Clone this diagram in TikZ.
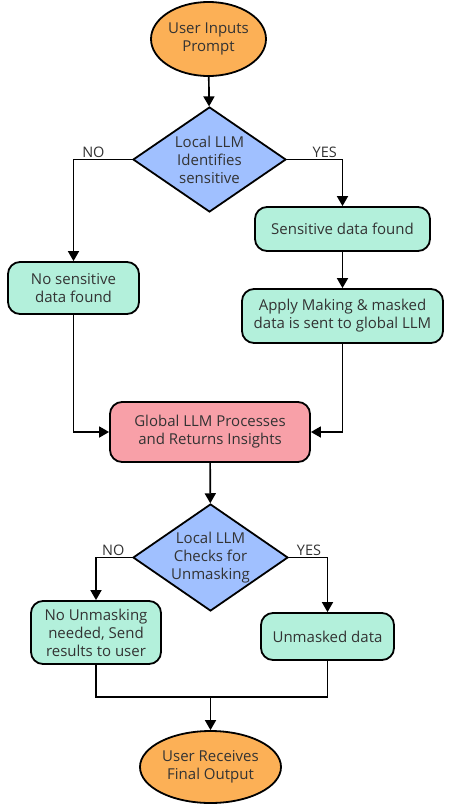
\documentclass[tikz,border=0pt]{standalone}
\usepackage{fontspec}
\setmainfont{Open Sans}
\usepackage{tikz}
\usetikzlibrary{shapes.geometric,arrows.meta}
\definecolor{termfill}{RGB}{252,176,86}
\definecolor{decfill}{RGB}{160,192,255}
\definecolor{procfill}{RGB}{179,240,219}
\definecolor{globfill}{RGB}{248,160,168}
\definecolor{textgray}{RGB}{51,51,51}

\tikzset{
    base/.style={draw=black,line width=1.8pt,text=textgray,align=center,
        font=\fontsize{15}{18}\selectfont,inner sep=0pt},
    terminal/.style={base,ellipse,fill=termfill},
    decision/.style={base,diamond,aspect=1.46,fill=decfill},
    process/.style={base,rectangle,rounded corners=12pt,fill=procfill},
    globalbox/.style={base,rectangle,rounded corners=12pt,fill=globfill},
    arrow/.style={line width=1.7pt,-{Triangle[width=11pt,length=10pt]}},
    branch/.style={text=textgray,font=\fontsize{14.5}{16}\selectfont,inner sep=1.5pt}
}

\begin{document}
\begin{tikzpicture}[x=1pt,y=-1pt]
    \useasboundingbox (0,0) rectangle (449,806);

    % top part
    \node[terminal,minimum width=115pt,minimum height=74pt] (start) at (208.5,39) {User Inputs\\Prompt};
    \node[decision,minimum width=153pt,minimum height=105pt] (identify) at (209.5,159.5) {Local LLM\\Identifies\\sensitive};
    \node[process,minimum width=131pt,minimum height=52pt] (nosens) at (73.5,288) {No sensitive\\data found};
    \node[process,minimum width=175pt,minimum height=44pt] (sens) at (342.5,229) {Sensitive data found};
    \node[process,minimum width=201pt,minimum height=54pt] (apply) at (342.5,316) {Apply Making \& masked\\data is sent to global LLM};

    % middle part
    \node[globalbox,minimum width=200pt,minimum height=60pt] (global) at (210,432) {Global LLM Processes\\and Returns Insights};
    \node[decision,minimum width=155pt,minimum height=107pt] (unmaskcheck) at (210.5,557.5) {Local LLM\\Checks for\\Unmasking};
    \node[process,minimum width=130pt,minimum height=63pt] (nounmask) at (96,632.5) {No Unmasking\\needed, Send\\results to user};
    \node[process,minimum width=133pt,minimum height=47pt] (unmasked) at (327.5,636.5) {Unmasked data};

    % bottom part
    \coordinate (join) at (210.5,697);
    \node[terminal,minimum width=141pt,minimum height=72pt] (finish) at (210.5,767) {User Receives\\Final Output};

    % connectors
    \draw[arrow] (start) -- (identify);
    \draw[arrow] (identify.west) -| (nosens.north) node[branch,pos=0.33,above] {NO};
    \draw[arrow] (identify.east) -| (sens.north) node[branch,pos=0.34,above] {YES};
    \draw[arrow] (sens) -- (apply);
    \draw[arrow] (nosens.south) |- (global.west);
    \draw[arrow] (apply.south) |- (global.east);
    \draw[arrow] (global) -- (unmaskcheck);
    \draw[arrow] (unmaskcheck.west) -| (nounmask.north) node[branch,pos=0.26,above] {NO};
    \draw[arrow] (unmaskcheck.east) -| (unmasked.north) node[branch,pos=0.26,above] {YES};
    \draw[line width=1.7pt] (nounmask.south) |- (join) -| (unmasked.south);
    \draw[arrow] (join) -- (finish);
\end{tikzpicture}
\end{document}
